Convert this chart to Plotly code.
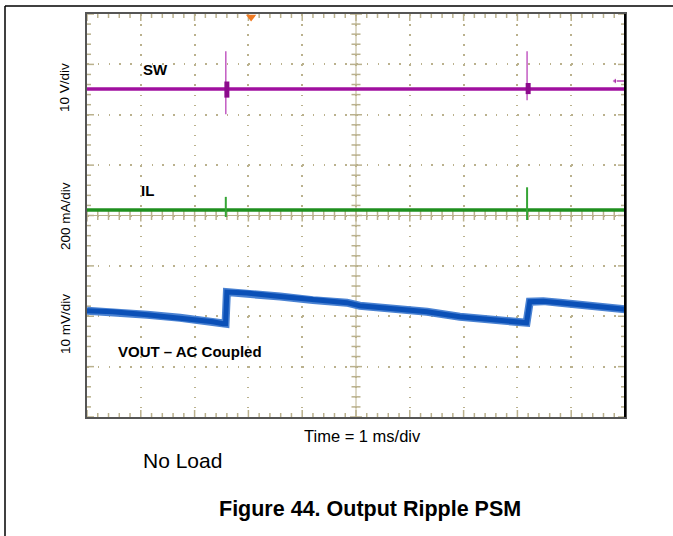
"""
Scope capture: Output Ripple PSM, no load (SW, IL, VOUT)
"""

import plotly.graph_objects as go

# graticule: 10 x 1 ms horizontally, 8 divisions vertically
N_XDIV = 10
N_YDIV = 8

# SW node, 10 V/div
SW_V_PER_DIV = 10.0
SW_POS_DIV = 2.51
sw_base_t = [0.0, 10.0]
sw_base_v = [0.0, 0.0]
sw_spike_t = [2.58, 8.18]
sw_spike_hi = [7.5, 7.5]
sw_spike_lo = [-5.0, -2.2]
sw_ring_hi = [1.5, 1.2]
sw_ring_lo = [-1.7, -1.0]

# inductor current, 200 mA/div
IL_MA_PER_DIV = 200.0
IL_POS_DIV = 0.11
il_base_t = [0.0, 10.0]
il_base_ma = [0.0, 0.0]
il_spike_t = [2.58, 8.18]
il_spike_hi = [52.0, 90.0]
il_spike_lo = [-28.0, -40.0]

# output voltage ripple, AC coupled, 10 mV/div
VOUT_MV_PER_DIV = 10.0
VOUT_POS_DIV = -1.85
vout_t = [0.00, 0.48, 1.12, 1.73, 2.34, 2.53, 2.575, 2.60, 2.97, 3.59, 4.20,
          4.83, 5.07, 5.69, 6.32, 6.93, 7.55, 8.10, 8.17, 8.23, 8.48, 8.79,
          9.41, 10.00]
vout_mv = [-0.4, -0.6, -1.2, -1.8, -2.6, -3.0, -3.0, 3.3, 3.1, 2.4, 1.7,
           1.2, 0.6, 0.1, -0.6, -1.6, -2.2, -2.8, -2.8, 1.4, 1.5, 1.2,
           0.6, -0.1]

TRIGGER_T = 3.05
SW_REF_DIV = 2.67

# ---------- Layout constants ----------

W, H = 673, 536
L, R, T, B = 87, 48, 14, 119
XPX = (W - L - R) / N_XDIV   # px per ms
YPX = (H - T - B) / N_YDIV   # px per div

FONT = "Liberation Sans, Arial, sans-serif"
TAN = "#bab18d"
SW_COLOR = "#a0109f"
IL_COLOR = "#1f8f1f"
VOUT_COLOR = "#0b50b7"


def px_x(px):
    return (px - L) / (W - L - R)


def px_y(py):
    return (H - B - py) / (H - T - B)


def _spikes(ts, his, los, dt=0.0):
    xs, ys = [], []
    for t, hi, lo in zip(ts, his, los):
        xs += [t + dt, t + dt, None]
        ys += [hi, lo, None]
    return xs, ys


def _graticule_ticks():
    """Minor tick marks on the frame edges and on the centre cross."""
    xs, ys = [], []
    half_x, half_y = N_XDIV / 2, N_YDIV / 2
    for i in range(N_XDIV * 5 + 1):
        t = i * 0.2
        ln = (7 if i % 5 == 0 else 4) / YPX
        c = (6 if i % 5 == 0 else 4.5) / YPX
        xs += [t, t, None, t, t, None, t, t, None]
        ys += [-half_y, -half_y + ln, None, half_y, half_y - ln, None, -c, c, None]
    for j in range(N_YDIV * 5 + 1):
        d = -half_y + j * 0.2
        ln = (7 if j % 5 == 0 else 4) / XPX
        c = (6 if j % 5 == 0 else 4.5) / XPX
        xs += [0, ln, None, N_XDIV, N_XDIV - ln, None, half_x - c, half_x + c, None]
        ys += [d, d, None, d, d, None, d, d, None]
    return xs, ys


fig = go.Figure()

# centre cross
fig.add_trace(go.Scatter(x=[0, N_XDIV, None, N_XDIV / 2, N_XDIV / 2],
                         y=[0, 0, None, -N_YDIV / 2, N_YDIV / 2],
                         mode="lines", line=dict(color=TAN, width=1)))
gx, gy = _graticule_ticks()
fig.add_trace(go.Scatter(x=gx, y=gy, mode="lines",
                         line=dict(color=TAN, width=1.5)))

# SW
fig.add_trace(go.Scatter(x=sw_base_t,
                         y=[v / SW_V_PER_DIV + SW_POS_DIV for v in sw_base_v],
                         mode="lines", line=dict(color=SW_COLOR, width=3.5)))
sx, sy = _spikes(sw_spike_t,
                 [v / SW_V_PER_DIV + SW_POS_DIV for v in sw_spike_hi],
                 [v / SW_V_PER_DIV + SW_POS_DIV for v in sw_spike_lo])
fig.add_trace(go.Scatter(x=sx, y=sy, mode="lines",
                         line=dict(color="#c35cc3", width=1.5)))
rx, ry = _spikes(sw_spike_t,
                 [v / SW_V_PER_DIV + SW_POS_DIV for v in sw_ring_hi],
                 [v / SW_V_PER_DIV + SW_POS_DIV for v in sw_ring_lo], dt=0.02)
fig.add_trace(go.Scatter(x=rx, y=ry, mode="lines",
                         line=dict(color="#8c0a8c", width=5)))

# IL
fig.add_trace(go.Scatter(x=il_base_t,
                         y=[v / IL_MA_PER_DIV + IL_POS_DIV for v in il_base_ma],
                         mode="lines", line=dict(color=IL_COLOR, width=3.5)))
ix, iy = _spikes(il_spike_t,
                 [v / IL_MA_PER_DIV + IL_POS_DIV for v in il_spike_hi],
                 [v / IL_MA_PER_DIV + IL_POS_DIV for v in il_spike_lo])
fig.add_trace(go.Scatter(x=ix, y=iy, mode="lines",
                         line=dict(color="#35a535", width=2)))

# VOUT (noise band drawn as a wide soft line under a narrower core)
vout_div = [v / VOUT_MV_PER_DIV + VOUT_POS_DIV for v in vout_mv]
fig.add_trace(go.Scatter(x=vout_t, y=vout_div, mode="lines",
                         line=dict(color="#4a82d2", width=8)))
fig.add_trace(go.Scatter(x=vout_t, y=vout_div, mode="lines",
                         line=dict(color=VOUT_COLOR, width=5)))

# trigger position and SW reference markers
fig.add_trace(go.Scatter(x=[TRIGGER_T], y=[N_YDIV / 2 - 3 / YPX], mode="markers",
                         marker=dict(symbol="triangle-down", size=9,
                                     color="#f07a22", line_width=0),
                         cliponaxis=False))
fig.add_trace(go.Scatter(x=[N_XDIV - 10 / XPX, N_XDIV], y=[SW_REF_DIV, SW_REF_DIV],
                         mode="lines+markers",
                         line=dict(color=SW_COLOR, width=1.2),
                         marker=dict(symbol=["triangle-left", "circle"],
                                     size=[6, 0], color=SW_COLOR)))

fig.update_traces(showlegend=False, hoverinfo="skip")

fig.update_xaxes(range=[0, N_XDIV], dtick=1, showticklabels=False,
                 showgrid=True, gridcolor=TAN, gridwidth=1.5,
                 griddash=f"1.5px,{YPX / 5 - 1.5:.2f}px", zeroline=False,
                 showline=True, linecolor="#555555", linewidth=2, mirror=True,
                 ticks="")
fig.update_yaxes(range=[-N_YDIV / 2, N_YDIV / 2], dtick=1, showticklabels=False,
                 showgrid=True, gridcolor=TAN, gridwidth=1.5,
                 griddash=f"1.5px,{XPX / 5 - 1.5:.2f}px", zeroline=False,
                 showline=True, linecolor="#555555", linewidth=2, mirror=True,
                 ticks="")

# on-screen trace labels
label_font = dict(family=FONT, size=15, color="black")
fig.add_annotation(x=1.28, y=2.90, text="<b>SW</b>", showarrow=False, font=label_font)
fig.add_annotation(x=1.12, y=0.49, text="<b>IL</b>", showarrow=False, font=label_font)
fig.add_annotation(x=0.54, y=-2.69, text="<b>VOUT – AC Coupled</b>", showarrow=False,
                   xanchor="left", font=label_font)


def paper_text(text, px, py, size, anchor="center", angle=0):
    fig.add_annotation(xref="paper", yref="paper", x=px_x(px), y=px_y(py),
                       text=text, textangle=angle, showarrow=False,
                       xanchor=anchor, yanchor="middle",
                       font=dict(family=FONT, size=size, color="black"))


# scale labels and captions
for text, py in [("10 V/div", 88), ("200 mA/div", 216), ("10 mV/div", 324)]:
    paper_text(text, 65, py, 13.5, angle=-90)
paper_text("Time = 1 ms/div", 362, 436, 16.5)
paper_text("No Load", 141, 461, 21, anchor="left")
paper_text("<b>Figure 44. Output Ripple PSM</b>", 370, 509, 21.5)

# page frame and the black right edge of the screen
frame = dict(color="black", width=1.5)
fig.add_shape(type="line", xref="paper", yref="paper", x0=px_x(5), x1=px_x(W),
              y0=px_y(6), y1=px_y(6), line=frame)
fig.add_shape(type="line", xref="paper", yref="paper", x0=px_x(5), x1=px_x(5),
              y0=px_y(6), y1=px_y(H), line=frame)
fig.add_shape(type="line", xref="paper", yref="paper", x0=1, x1=1, y0=0, y1=1,
              line=dict(color="black", width=2))

fig.update_layout(width=W, height=H, margin=dict(l=L, r=R, t=T, b=B),
                  paper_bgcolor="white", plot_bgcolor="white",
                  font=dict(family=FONT), showlegend=False)

# the page's default body margin would push the figure 8px down and right
fig.write_html("out.html", config={"displayModeBar": False},
               post_script="document.body.style.margin = '0';")
